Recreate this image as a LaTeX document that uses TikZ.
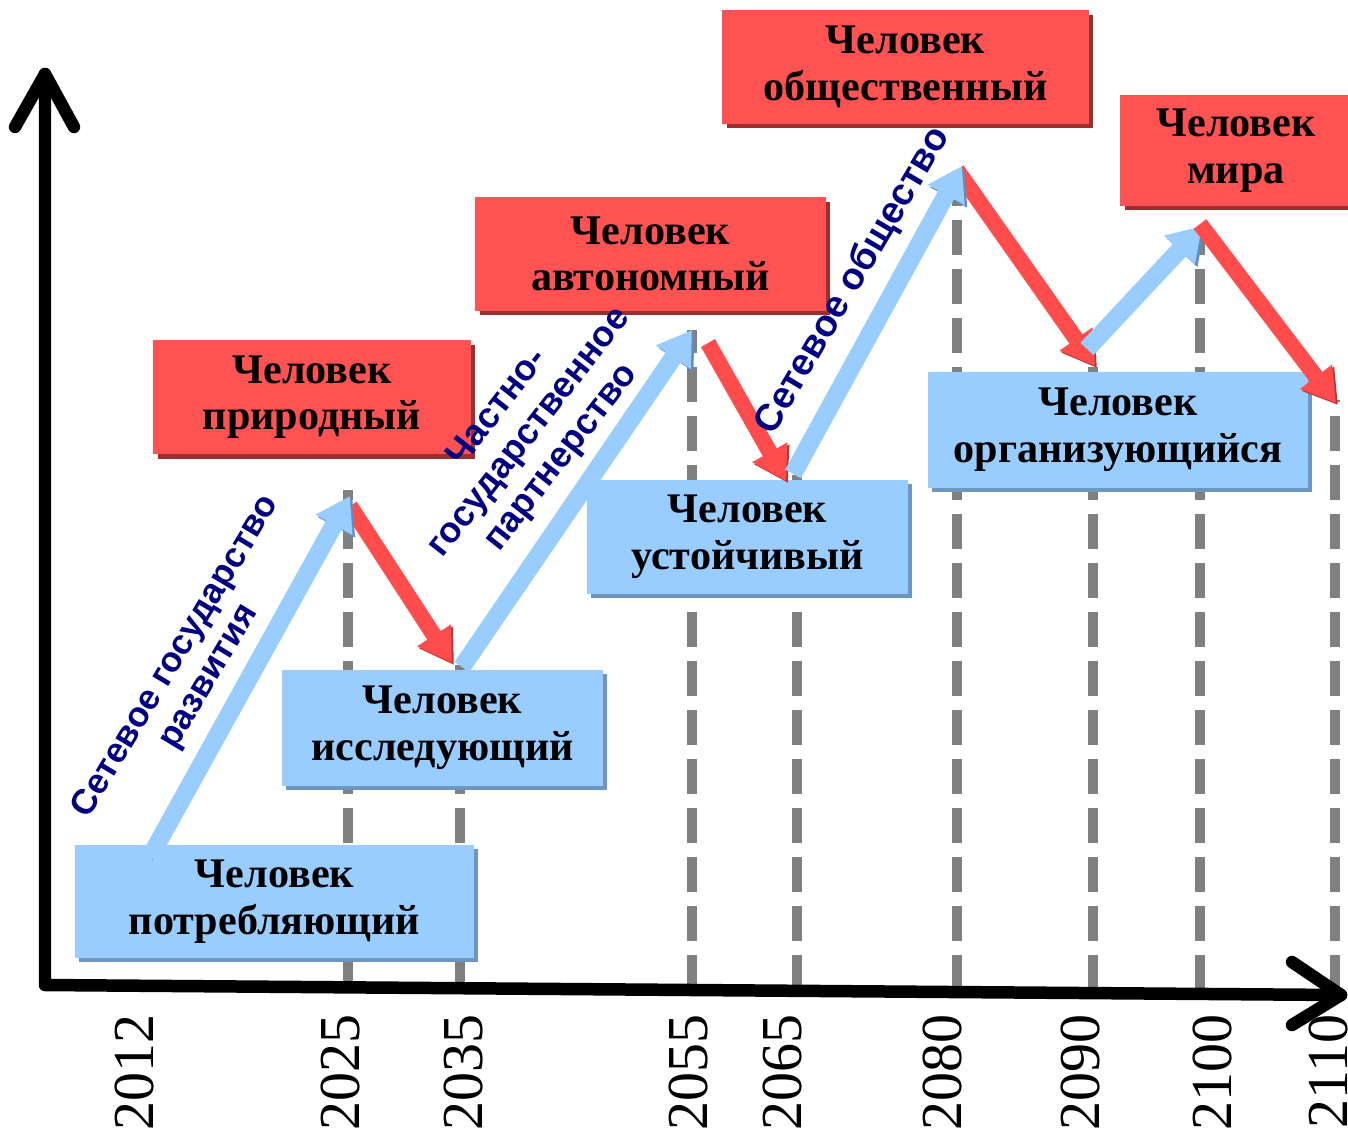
\documentclass[tikz,border=0pt]{standalone}
\usepackage{fontspec}
\setmainfont{Liberation Serif}
\newfontfamily\labfont{Liberation Sans}
\usetikzlibrary{arrows.meta,shadows}
\definecolor{boxblue}{HTML}{99CCFF}
\definecolor{blueshade}{HTML}{6F95C2}
\definecolor{boxred}{HTML}{FF5252}
\definecolor{redshade}{HTML}{9E2E2E}
\definecolor{arrblue}{HTML}{99CCFF}
\definecolor{arrblueedge}{HTML}{5F8CC4}
\definecolor{arrred}{HTML}{FF4C4C}
\definecolor{arrrededge}{HTML}{C23232}
\definecolor{navy}{HTML}{000080}
\definecolor{dashgray}{HTML}{808080}
\begin{document}
\begin{tikzpicture}[x=0.02cm,y=-0.02cm,
  axisline/.style={line width=0.25cm, line cap=round, line join=round, draw=black},
  yearline/.style={line width=0.19cm, draw=dashgray, dash pattern=on 0.7cm off 0.28cm},
  boxtext/.style={font=\bfseries\fontsize{24}{26.5}\selectfont, align=center, inner sep=0pt, text=black},
  bluebox/.style={boxtext, fill=boxblue, drop shadow={shadow xshift=0.08cm, shadow yshift=-0.08cm, opacity=1, fill=blueshade}},
  redbox/.style={boxtext, fill=boxred, drop shadow={shadow xshift=0.09cm, shadow yshift=-0.09cm, opacity=1, fill=redshade}},
  uparrow/.style={line width=0.36cm, draw=arrblue, -{Triangle[length=0.66cm,width=0.8cm]},
    preaction={draw=arrblueedge, transform canvas={shift={(0.05cm,-0.05cm)}}}},
  downarrow/.style={line width=0.32cm, draw=arrred, -{Triangle[length=0.66cm,width=0.76cm]},
    preaction={draw=arrrededge, transform canvas={shift={(0.04cm,-0.04cm)}}}},
  lab/.style={font=\labfont\bfseries, text=navy, align=center, inner sep=0pt},
  yearlab/.style={font=\fontsize{33}{33}\selectfont, rotate=90, anchor=east, inner sep=0pt}
]
\useasboundingbox (0,0) rectangle (1348,1137);

% axis points
\coordinate (O) at (45,985);
\coordinate (Ytop) at (45,74);
\coordinate (Xend) at (1341,995);
\coordinate (yL) at (15,127);
\coordinate (yR) at (74,127);
\coordinate (xU) at (1292,962);
\coordinate (xD) at (1292,1025);

% dashed year lines
\foreach \n/\x/\t in {25/348/490, 35/460/665, 55/692/330, 65/797/475, 80/957/170, 90/1093/360, 100/1200/228, 110/1335/400} {
  \coordinate (b\n) at (\x,990);
  \coordinate (t\n) at (\x,\t);
  \draw[yearline] (b\n) -- (t\n);
}

% boxes
\node[bluebox, minimum width=7.98cm, minimum height=2.26cm] (potr) at (274.5,901.5) {Человек\\потребляющий};
\node[bluebox, minimum width=6.42cm, minimum height=2.32cm] (issl) at (442.5,728) {Человек\\исследующий};
\node[bluebox, minimum width=6.42cm, minimum height=2.28cm] (ust) at (747.5,537) {Человек\\устойчивый};
\node[bluebox, minimum width=7.60cm, minimum height=2.32cm] (org) at (1118,430) {Человек\\организующийся};
\node[redbox, minimum width=6.36cm, minimum height=2.28cm] (prir) at (312,397) {Человек\\природный};
\node[redbox, minimum width=7.02cm, minimum height=2.28cm] (avt) at (650.5,254) {Человек\\автономный};
\node[redbox, minimum width=7.34cm, minimum height=2.28cm] (obsh) at (905.5,67) {Человек\\общественный};
\node[redbox, minimum width=4.64cm, minimum height=2.22cm] (mira) at (1236,150.5) {Человек\\мира};

% arrow points
\coordinate (a1s) at (150,857);  \coordinate (a1e) at (350,496);
\coordinate (a2s) at (350,506);  \coordinate (a2e) at (452,663);
\coordinate (a3s) at (462,667);  \coordinate (a3e) at (692,330);
\coordinate (a4s) at (708,343);  \coordinate (a4e) at (786,481);
\coordinate (a5s) at (793,474);  \coordinate (a5e) at (962,166);
\coordinate (a6s) at (957,170);  \coordinate (a6e) at (1095,366);
\coordinate (a7s) at (1087,349); \coordinate (a7e) at (1202,226);
\coordinate (a8s) at (1200,224); \coordinate (a8e) at (1336,403);

\draw[downarrow] (a2s) -- (a2e);
\draw[downarrow] (a4s) -- (a4e);
\draw[downarrow] (a6s) -- (a6e);
\draw[uparrow] (a1s) -- (a1e);
\draw[uparrow] (a3s) -- (a3e);
\draw[uparrow] (a5s) -- (a5e);
\draw[uparrow] (a7s) -- (a7e);
\draw[downarrow] (a8s) -- (a8e);

% axes
\draw[axisline] (Ytop) -- (O) -- (Xend);
\draw[axisline] (yL) -- (Ytop) -- (yR);
\draw[axisline] (xU) -- (Xend) -- (xD);

% year labels
\node[yearlab] (y2012) at (135,1014) {2012};
\node[yearlab] (y2025) at (340,1014) {2025};
\node[yearlab] (y2035) at (463,1014) {2035};
\node[yearlab] (y2055) at (688,1014) {2055};
\node[yearlab] (y2065) at (782,1014) {2065};
\node[yearlab] (y2080) at (942,1014) {2080};
\node[yearlab] (y2090) at (1080,1014) {2090};
\node[yearlab] (y2100) at (1212,1014) {2100};
\node[yearlab] (y2110) at (1328,1014) {2110};

% rotated labels
\node[lab, font=\labfont\bfseries\fontsize{20}{22}\selectfont, rotate=59] (l1) at (193,667) {Сетевое государство\\развития};
\node[lab, font=\labfont\bfseries\fontsize{20.5}{23}\selectfont, rotate=52] (l2) at (530,433) {Частно-\\государственное\\партнерство};
\node[lab, font=\labfont\bfseries\fontsize{21.5}{23}\selectfont, rotate=59.5] (l3) at (853,281) {Сетевое общество};
\end{tikzpicture}
\end{document}
